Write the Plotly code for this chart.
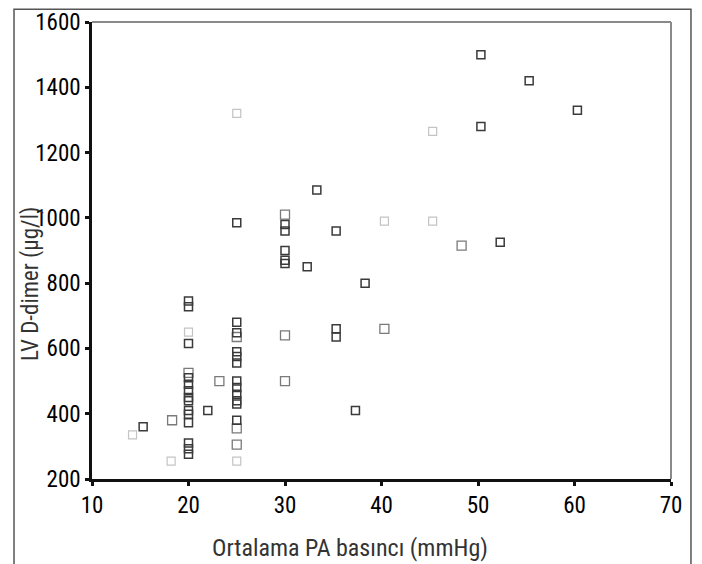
import plotly.graph_objects as go

# Solid (dark) points
x_dark = [15.3, 20, 20, 20, 20, 20, 20, 20, 20, 20, 20, 20, 20, 20, 20, 22, 25, 25, 25, 25, 25, 25, 25, 25, 25, 25, 25, 25,
          30, 30, 30, 30, 30, 32.3, 33.3, 35.3, 35.3, 35.3, 37.3, 38.3, 50.3, 50.3, 52.3, 55.3, 60.3]
y_dark = [360, 745, 728, 615, 510, 490, 470, 450, 440, 410, 398, 372, 310, 293, 276, 410, 985, 680, 648, 590, 575, 555, 500, 480,
          460, 440, 430, 380, 980, 960, 900, 870, 860, 850, 1085, 960, 660, 635, 410, 800, 1500, 1280, 925, 1420, 1330]
# Lighter open points
x_open = [18.3, 20, 23.2, 25, 25, 25, 30, 30, 30, 40.3, 48.3]
y_open = [380, 525, 500, 635, 355, 305, 1010, 500, 640, 660, 915]
# Faint points
x_faint = [14.2, 18.2, 20, 25, 25, 40.3, 45.3, 45.3]
y_faint = [335, 255, 650, 1320, 255, 990, 990, 1265]

x_ticks = [10, 20, 30, 40, 50, 60, 70]
y_ticks = [200, 400, 600, 800, 1000, 1200, 1400, 1600]

x_title = "Ortalama PA basıncı (mmHg)"
y_title = "LV D-dimer (µg/l)"

FONT = "Roboto Condensed, DejaVu Sans Condensed, sans-serif"

fig = go.Figure()
fig.add_trace(go.Scatter(x=x_faint, y=y_faint, mode="markers",
                         marker=dict(symbol="square-open", size=8, color="#c4c4c4", line=dict(width=1.2))))
fig.add_trace(go.Scatter(x=x_open, y=y_open, mode="markers",
                         marker=dict(symbol="square-open", size=9, color="#7a7a7a", line=dict(width=1.3))))
fig.add_trace(go.Scatter(x=x_dark, y=y_dark, mode="markers",
                         marker=dict(symbol="square-open", size=8, color="#3a3a3a", line=dict(width=1.5))))

fig.update_layout(
    width=694, height=556,
    margin=dict(l=84, r=31, t=14, b=85),
    paper_bgcolor="white", plot_bgcolor="white",
    showlegend=False,
    font=dict(family=FONT),
    xaxis=dict(range=[10, 70], tickvals=x_ticks, ticktext=[str(v) for v in x_ticks], automargin=False,
               showgrid=False, zeroline=False, showline=True, linecolor="#111", linewidth=2.5,
               ticks="outside", ticklen=4, tickwidth=3, tickcolor="#111",
               tickfont=dict(size=23, family=FONT, color="#000")),
    yaxis=dict(range=[200, 1600], tickvals=y_ticks, ticktext=[str(v) for v in y_ticks], automargin=False,
               showgrid=False, zeroline=False, showline=True, linecolor="#111", linewidth=2.5,
               ticks="outside", ticklen=4, tickwidth=3, tickcolor="#111",
               tickfont=dict(size=23, family=FONT, color="#000")),
    annotations=[
        dict(text=x_title, xref="paper", yref="paper", x=0.4456, y=-0.1515, xanchor="center", yanchor="middle",
             showarrow=False, font=dict(size=24, family=FONT, color="#333")),
        dict(text=y_title, xref="paper", yref="paper", x=-0.1054, y=0.4267, xanchor="center", yanchor="middle",
             textangle=-90, showarrow=False, font=dict(size=23, family=FONT, color="#333")),
    ],
    shapes=[
        dict(type="line", xref="paper", yref="paper", x0=0, x1=1, y0=1, y1=1, line=dict(color="#8a8a8a", width=2)),
        dict(type="line", xref="paper", yref="paper", x0=1, x1=1, y0=0, y1=1, line=dict(color="#8a8a8a", width=2)),
        dict(type="rect", xref="paper", yref="paper", x0=-0.1347, x1=1.0345, y0=-0.25, y1=1.028,
             line=dict(color="#555", width=1.5)),
    ],
)

fig.write_html("out.html")
